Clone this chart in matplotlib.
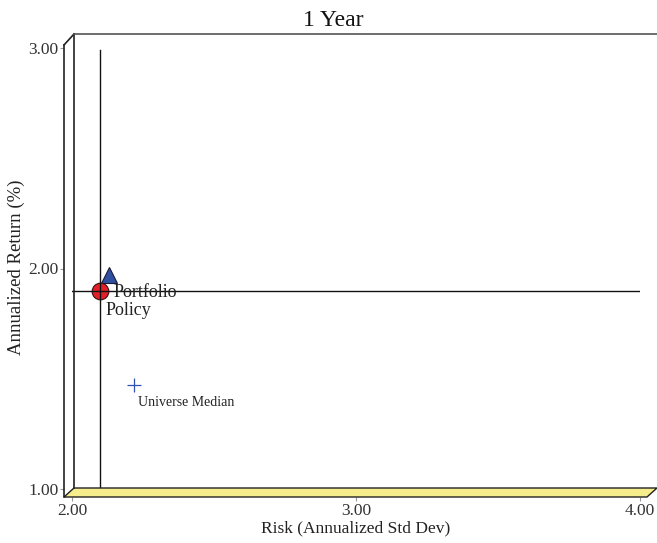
import matplotlib
matplotlib.use("Agg")
import matplotlib.pyplot as plt
from matplotlib.patches import Polygon
from matplotlib.lines import Line2D

W, H = 657, 543
plt.rcParams['font.family'] = ['Liberation Serif', 'DejaVu Serif']

# data
names = ["Portfolio", "Policy", "Universe Median"]
risk = [2.13, 2.10, 2.22]
ret = [1.97, 1.90, 1.47]
xticks = [2.0, 3.0, 4.0]
yticks = [1.0, 2.0, 3.0]
xtick_labels = ["2.00", "3.00", "4.00"]
ytick_labels = ["1.00", "2.00", "3.00"]

fig = plt.figure(figsize=(W / 100, H / 100), dpi=100)

def P(x, y):
    return (x / W, 1 - y / H)

# 3D frame
tf = fig.transFigure
floor = Polygon([P(64, 497), P(74, 488), P(657, 488), P(647, 497)], closed=True,
                facecolor="#f6ee8c", edgecolor="#222222", lw=1.0, transform=tf)
fig.patches.append(floor)
for (x0, y0), (x1, y1), c in [((64, 45), (64, 497), "#222222"),
                              ((74, 34), (74, 488), "#222222"),
                              ((64, 45), (74, 34), "#222222"),
                              ((74, 34), (657, 34), "#555555")]:
    fig.lines.append(Line2D([P(x0, y0)[0], P(x1, y1)[0]], [P(x0, y0)[1], P(x1, y1)[1]],
                            color=c, lw=1.2, transform=tf))

ax = fig.add_axes([72 / W, 1 - 489 / H, (640 - 72) / W, (489 - 48) / H])
ax.set_xlim(2.0, 4.0)
ax.set_ylim(1.0, 3.0)
ax.patch.set_visible(False)
for s in ax.spines.values():
    s.set_visible(False)
ax.spines['bottom'].set_position(('outward', 5.8))
ax.spines['left'].set_position(('outward', 5.8))
ax.set_xticks(xticks, xtick_labels)
ax.set_yticks(yticks, ytick_labels)
ax.tick_params(axis='both', direction='out', length=3, color="#999999",
               labelsize=12.5, labelcolor="#333333", pad=1)

# crosshair through policy
ax.plot([risk[1], risk[1]], [1.0, 2.99], color="#111111", lw=1.0, zorder=4)
ax.plot([2.0, 4.0], [ret[1], ret[1]], color="#111111", lw=1.0, zorder=4)

ax.plot(risk[0], ret[0], marker='^', ms=12, mfc="#2f4fa0", mec="#1a1a3a", mew=0.8,
        ls='none', zorder=3, clip_on=False)
ax.plot(risk[1], ret[1], marker='o', ms=12, mfc="#e2202a", mec="#3a1010", mew=0.8,
        ls='none', zorder=3, clip_on=False)
ax.plot(risk[2], ret[2], marker='+', ms=10, mec="#3050b0", mew=0.9, ls='none', zorder=3)

ax.annotate(names[0], (risk[0], ret[0]), xytext=(5, -9), textcoords='offset pixels',
            ha='left', va='top', fontsize=13, color="#222222", zorder=5)
ax.annotate(names[1], (risk[1], ret[1]), xytext=(5, -11), textcoords='offset pixels',
            ha='left', va='top', fontsize=13, color="#222222", zorder=5)
ax.annotate(names[2], (risk[2], ret[2]), xytext=(4, -11), textcoords='offset pixels',
            ha='left', va='top', fontsize=10, color="#222222", zorder=5)

fig.text(333 / W, 1 - 21 / H, "1 Year", ha='center', va='center', fontsize=17, color="#111111")
fig.text(356 / W, 1 - 528 / H, "Risk (Annualized Std Dev)", ha='center', va='center',
         fontsize=12.5, color="#222222")
fig.text(16 / W, 1 - 267 / H, "Annualized Return (%)", ha='center', va='center',
         rotation=90, fontsize=13.5, color="#222222")

fig.savefig("out.png", dpi=100)
